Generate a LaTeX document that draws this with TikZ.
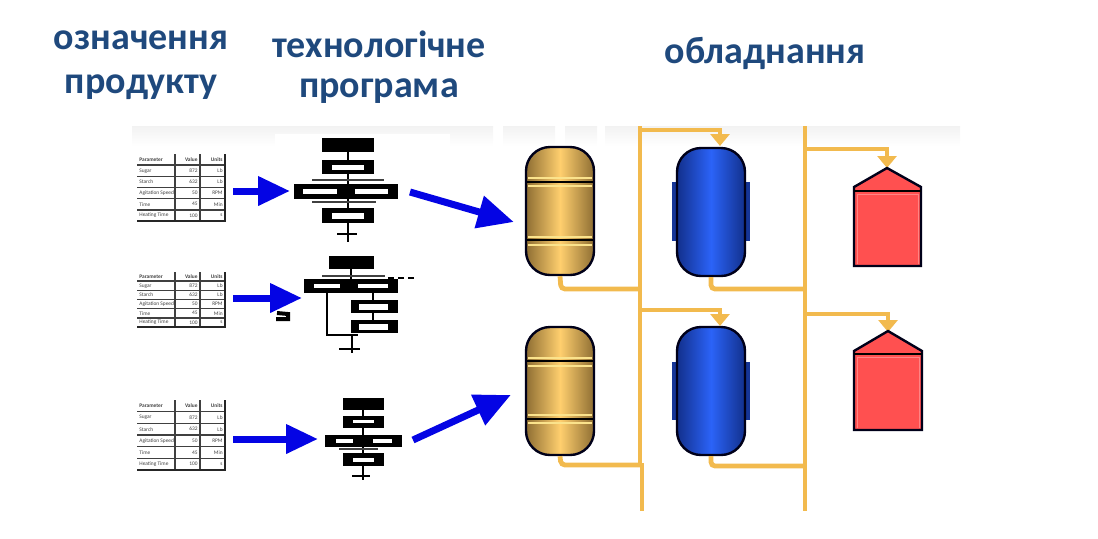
\documentclass[tikz,border=0pt]{standalone}
\usepackage{fontspec}
\setmainfont{Carlito}
\usetikzlibrary{arrows.meta,calc}
\definecolor{titlec}{HTML}{1F497D}
\definecolor{pipec}{HTML}{F2BA4E}
\definecolor{flowc}{HTML}{0404E4}
\definecolor{roofc}{HTML}{FF5050}
\definecolor{gold1}{HTML}{8E6E33}
\definecolor{gold2}{HTML}{FFCF6E}
\definecolor{gold3}{HTML}{FBE38C}
\definecolor{blue1}{HTML}{12308C}
\definecolor{blue2}{HTML}{2B63F8}
\tikzset{
  title/.style={font=\bfseries\fontsize{19}{21}\selectfont,text=titlec,inner sep=0pt},
  pipe/.style={draw=pipec,line width=2.4pt},
  pipearrow/.style={draw=pipec,line width=2.4pt,-{Triangle[length=6pt,width=9.5pt]}},
  flow/.style={draw=flowc,line width=3.5pt,-{Triangle[length=16pt,width=14pt]}},
  bigflow/.style={draw=flowc,line width=3.5pt,-{Triangle[length=18pt,width=16pt]}},
  vessel/.style={draw=black!90!blue,line width=1.2pt,rounded corners=12pt,minimum width=34pt,minimum height=64pt,inner sep=0pt},
  goldtank/.style={vessel,left color=gold1,right color=gold1,middle color=gold2},
  bluetank/.style={vessel,left color=blue1,right color=blue1,middle color=blue2},
  jacket/.style={fill=blue1!90!blue2,draw=none},
  band/.style={draw=black,line width=1.2pt},
  bandlight/.style={draw=gold3,line width=.8pt},
  house/.style={draw=black!90!blue,line width=1.2pt,fill=roofc,line join=miter},
  cell/.style={font=\fontsize{2.7}{3}\selectfont,text=black!75,inner sep=0pt},
  rule/.style={draw=black!75,line width=.7pt},
  stem/.style={draw=black,line width=1.4pt},
  thin/.style={draw=black!75,line width=.8pt},
  slot/.style={fill=white,draw=none},
  bandshade/.style={top color=black!5,bottom color=white},
}
% block with coordinates x1 y1 x2 y2
\newcommand{\blk}[4]{\fill[black] (#1,#2) rectangle (#3,#4);}
\newcommand{\slt}[4]{\fill[slot] (#1,#2) rectangle (#3,#4);}
% table: x-left, y-top, height
\newcommand{\ptable}[3]{%
  \begin{scope}[shift={(#1,#2)}]
    \pgfmathsetmacro{\rh}{#3/6}
    \foreach \i in {1,...,5} \draw[rule] (0,\i*\rh) -- (88,\i*\rh);
    \draw[rule] (38,0) -- (38,#3);
    \draw[rule] (63,0) -- (63,#3);
    \draw[draw=black!85,line width=1.1pt] (88,0) -- (88,#3) -- (0,#3);
    \foreach \r/\a/\b/\c in {0/\textbf{Parameter}/\textbf{Value}/\textbf{Units},1/Sugar/872/Lb,2/Starch/632/Lb,3/Agitation Speed/50/RPM,4/Time/45/Min,5/Heating Time/100/s}{
      \node[cell,anchor=west] at (2,{(\r+.5)*\rh}) {\a};
      \node[cell,anchor=east] at (61,{(\r+.5)*\rh}) {\b};
      \node[cell,anchor=east] at (86,{(\r+.5)*\rh}) {\c};
    }
  \end{scope}}
\begin{document}
\begin{tikzpicture}[x=.5pt,y=-.5pt]
\useasboundingbox (0,0) rectangle (1098,538);
% faint header band
\shade[bandshade] (132,126) rectangle (493,146);
\shade[bandshade] (503,126) rectangle (555,146);
\shade[bandshade] (565,126) rectangle (597,146);
\shade[bandshade] (605,126) rectangle (960,146);
\fill[white] (275,134) rectangle (450,146);
% titles
\node[title] (tA) at (141,40) {означення};
\node[title] (tB) at (141,87) {продукту};
\node[title] (tC) at (379,44) {технологічне};
\node[title] (tD) at (379,91) {програма};
\node[title] (tE) at (765,53) {обладнання};
% tables
\ptable{137}{154}{67}
\ptable{137}{272}{55}
\ptable{137}{400}{70}
% recipe 1
\draw[stem] (348,152) -- (348,160) (348,174) -- (348,184) (348,199) -- (348,208) (348,223) -- (348,242);
\draw[thin] (312,180) -- (384,180) (312,202) -- (376,202);
\draw[stem] (337,234) -- (357,234);
\blk{322}{138}{374}{152}
\blk{322}{160}{374}{174}\slt{332}{165}{364}{170}
\blk{294}{184}{398}{199}\slt{303}{189}{337}{194}\slt{355}{189}{388}{194}
\blk{322}{208}{374}{223}\slt{332}{213}{364}{219}
% recipe 2
\draw[stem] (351,269) -- (351,279) (373,293) -- (373,300) (373,313) -- (373,320);
\draw[thin] (322,276) -- (385,276);
\draw[draw=black,line width=1.4pt] (327,293) -- (327,335) -- (358,335);
\draw[stem] (352,335) -- (352,353) (339,349) -- (360,349);
\draw[draw=black,line width=1pt,dash pattern=on 3pt off 2pt] (388,278) -- (417,278);
\blk{329}{256}{374}{269}
\blk{304}{279}{398}{293}\slt{314}{284}{340}{288}\slt{358}{284}{388}{288}
\blk{351}{300}{398}{313}\slt{359}{304}{388}{310}
\blk{351}{320}{398}{333}\slt{359}{324}{388}{330}
\draw[draw=black,line width=2pt] (277,313) -- (288,314) -- (288,319) -- (276,319);
% recipe 3
\draw[stem] (363,410) -- (363,416) (363,428) -- (363,435) (363,447) -- (363,453) (363,466) -- (363,480) (352,476) -- (370,476);
\draw[thin] (339,449) -- (378,449);
\blk{343}{398}{384}{410}
\blk{343}{416}{384}{428}\slt{353}{420}{374}{423}
\blk{325}{435}{402}{447}\slt{336}{439}{353}{443}\slt{373}{439}{392}{443}
\blk{343}{453}{384}{466}\slt{353}{458}{374}{462}
% arrow anchors
\coordinate (a1s) at (233,191); \coordinate (a1e) at (290,191);
\coordinate (a2s) at (233,298); \coordinate (a2e) at (302,298);
\coordinate (a3s) at (233,439); \coordinate (a3e) at (318,439);
\coordinate (r1) at (410,192); \coordinate (r3) at (413,440);
% pipes behind vessels
\coordinate (m1t) at (640,126); \coordinate (m1m) at (640,467); \coordinate (m1n) at (642,463); \coordinate (m1b) at (642,511);
\coordinate (m2t) at (805,126); \coordinate (m2b) at (805,511);
\coordinate (j1) at (640,130); \coordinate (j2) at (640,310);
\coordinate (j3) at (805,149); \coordinate (j4) at (805,314);
\coordinate (i1) at (720,146); \coordinate (i2) at (720,326);
\coordinate (i3) at (887,168); \coordinate (i4) at (888,332);
\draw[pipe] (m1t) -- (m1m);
\draw[pipe] (m1n) -- (m1b);
\draw[pipe] (m2t) -- (m2b);
% jackets
\fill[jacket] (672,182) rectangle (750,241);
\fill[jacket] (672,362) rectangle (750,420);
% vessels
\node[goldtank] (g1) at (560,211) {};
\node[goldtank] (g2) at (560,391) {};
\node[bluetank] (b1) at (711,212) {};
\node[bluetank] (b2) at (711,391) {};
\foreach \y in {178,186,237,245} \draw[bandlight] (528,\y) -- (592,\y);
\foreach \y in {358,366,415,423} \draw[bandlight] (528,\y) -- (592,\y);
\draw[band] (527,182) -- (593,182) (527,240) -- (593,240);
\draw[band] (527,361) -- (593,361) (527,419) -- (593,419);
% outlets
\draw[pipe,rounded corners=2pt] (g1.south) -- (561,289) -- (640,289);
\draw[pipe,rounded corners=2pt] (g2.south) -- (561,465) -- (640,465);
\draw[pipe,rounded corners=2pt] (b1.south) -- (711,289) -- (805,289);
\draw[pipe,rounded corners=2pt] (b2.south) -- (711,466) -- (805,466);
% inlet branches
\draw[pipearrow] (j1) -| (i1);
\draw[pipearrow] (j2) -| (i2);
\draw[pipearrow] (j3) -| (i3);
\draw[pipearrow] (j4) -| (i4);
% silos
\draw[house] (854,266) -- (854,187) -- (887,168) -- (921,187) -- (921,266) -- cycle;
\draw[band] (854,191) -- (921,191);
\draw[draw=white!30!roofc,line width=.5pt] (857,264) -- (857,194) -- (918,194) -- (918,264);
\draw[house] (854,430) -- (854,351) -- (888,331) -- (922,351) -- (922,430) -- cycle;
\draw[band] (854,354) -- (922,354);
\draw[draw=white!30!roofc,line width=.5pt] (857,428) -- (857,357) -- (919,357) -- (919,428);
% product/program arrows
\draw[flow] (a1s) -- (a1e);
\draw[flow] (a2s) -- (a2e);
\draw[flow] (a3s) -- (a3e);
\draw[bigflow] (r1) -- ($(g1.west)+(-11,11)$);
\draw[bigflow] (r3) -- ($(g2.west)+(-14,4)$);
\end{tikzpicture}
\end{document}
